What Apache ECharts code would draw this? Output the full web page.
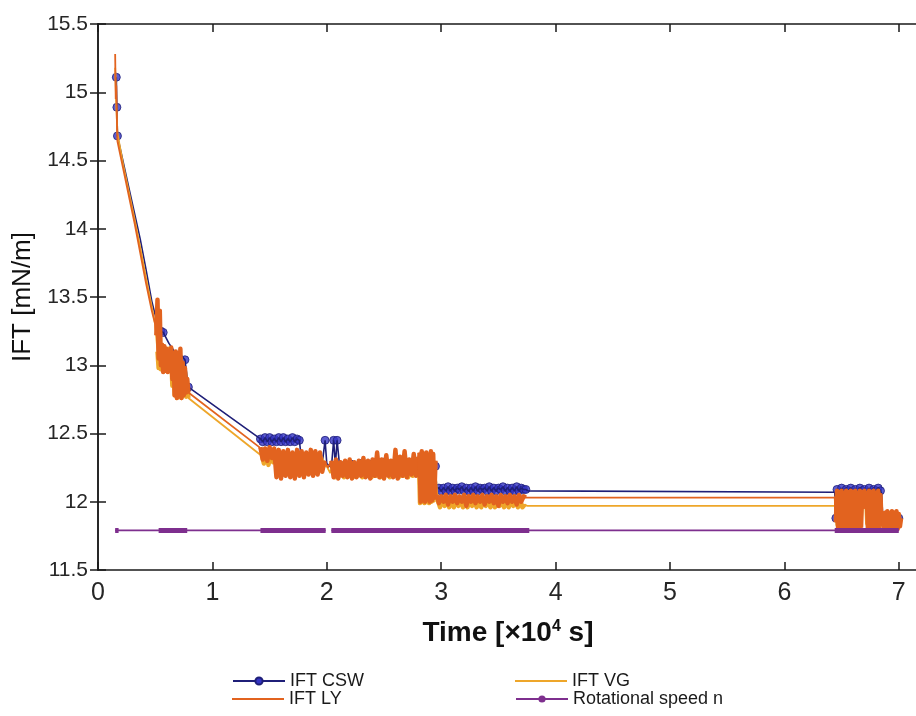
<!DOCTYPE html>
<html>
<head>
<meta charset="utf-8">
<script src="https://cdn.jsdelivr.net/npm/echarts@6/dist/echarts.min.js"></script>
<style>
  html, body { margin: 0; padding: 0; background: #ffffff; }
  #chart { width: 916px; height: 716px; }
</style>
</head>
<body>
<div id="chart"></div>
<script>
// Time axis is in units of 1e4 s, IFT in mN/m.
// Sparse parts are [t, value] pairs; densely sampled stretches are {t0, dt, v}.

// ---- IFT CSW ----
const cswHead = [[0.16,15.11],[0.165,14.89],[0.17,14.68],[0.22,14.49],[0.27,14.3],[0.32,14.11],[0.37,13.92],[0.42,13.7],[0.47,13.47],[0.52,13.3],[0.55,13.25],[0.57,13.24],[0.62,13.16],[0.67,13.1],[0.72,13.08],[0.76,13.04],[0.79,12.84]];
const cswRunA = {t0:1.42, dt:0.02, v:[12.46,12.44,12.47,12.44,12.47,12.44,12.46,12.44,12.47,12.44,12.47,12.44,12.46,12.44,12.47,12.44,12.46,12.45]};
const cswMid = [[1.78,12.30],[1.84,12.28],[1.9,12.29],[1.96,12.28],[1.985,12.45],[2.0,12.28],[2.04,12.25],[2.06,12.45],[2.075,12.27],[2.09,12.45],[2.11,12.28]];
const cswRunB = {t0:2.14, dt:0.04, v:[12.29,12.27,12.30,12.28,12.29,12.27,12.30,12.28,12.29,12.28,12.30,12.27,12.29,12.28,12.31,12.28,12.30]};
const cswStep = [[2.82,12.32],[2.9,12.31],[2.95,12.26],[2.96,12.10]];
const cswRunC = {t0:2.98, dt:0.02, v:[12.10,12.08,12.10,12.08,12.11,12.08,12.10,12.08,12.10,12.09,12.11,12.08,12.10,12.08,12.10,12.08,12.11,12.08,12.10,12.09,12.10,12.08,12.11,12.08,12.10,12.08,12.10,12.09,12.11,12.08,12.10,12.08,12.10,12.08,12.11,12.08,12.10,12.09,12.09]};
const cswFlat = [[3.76,12.08],[6.44,12.07],[6.45,11.88]];
const cswRunD = {t0:6.46, dt:0.02, v:[12.09,12.07,12.10,12.07,12.09,12.08,12.10,12.07,12.09,12.07,12.10,12.08,12.09,12.07,12.10,12.07,12.09,12.08,12.10,12.08]};
const cswTail = [[6.85,12.06],[6.86,11.88],[6.9,11.9],[6.94,11.87],[6.97,11.89],[7.0,11.88]];
const cswMarks = [[0.16,15.11],[0.165,14.89],[0.17,14.68],[0.55,13.25],[0.57,13.24],[0.76,13.04],[0.79,12.84],[1.985,12.45],[2.06,12.45],[2.09,12.45],[2.3,12.28],[2.5,12.29],[2.7,12.28],[2.95,12.26],[6.45,11.88],[6.86,11.88],[7.0,11.88]];

// ---- IFT LY ----
const lyHead = [[0.15,15.28],[0.155,14.95],[0.16,15.05],[0.165,14.8],[0.17,14.64],[0.22,14.44],[0.27,14.24],[0.32,14.04],[0.37,13.82],[0.42,13.6],[0.47,13.4],[0.5,13.3]];
const lyRunA = {t0:0.51, dt:0.01, v:[13.22,13.48,13.05,13.40,13.00,13.15,12.95,13.14,12.96,13.12,12.95,13.10,12.97,13.13,12.90,13.08,12.78,13.10,12.76,13.05,12.78,13.12,12.76,13.02,12.78,12.98,12.80,12.90,12.80]};
const lyLine = [[0.80,12.80],[1.41,12.40]];
const lyRunB = {t0:1.42, dt:0.02, v:[12.40,12.31,12.39,12.30,12.40,12.32,12.39,12.18,12.38,12.17,12.37,12.19,12.38,12.18,12.36,12.17,12.38,12.19,12.37,12.18,12.36,12.20,12.38,12.19,12.37,12.20,12.36,12.22,12.30]};
const lyGap = [[2.01,12.25]];
const lyRunC = {t0:2.04, dt:0.02, v:[12.30,12.18,12.31,12.17,12.29,12.19,12.30,12.18,12.31,12.17,12.29,12.18,12.30,12.19,12.32,12.18,12.30,12.17,12.31,12.19,12.36,12.18,12.31,12.17,12.34,12.19,12.30,12.18,12.38,12.17,12.33,12.19,12.37,12.18,12.31,12.20,12.35,12.19,12.33]};
const lyRunD = {t0:2.81, dt:0.01, v:[12.36,12.00,12.37,12.01,12.35,12.00,12.36,12.02,12.34,12.00,12.37,12.01,12.35,12.03,12.30]};
const lyRunE = {t0:2.96, dt:0.02, v:[12.05,11.99,12.04,12.00,12.05,11.98,12.04,12.00,12.05,11.99,12.04,12.00,12.05,11.97,12.04,12.00,12.05,11.99,12.04,12.00,12.05,11.98,12.04,12.00,12.05,11.99,12.04,11.97,12.05,12.00,12.04,11.99,12.05,12.00,12.04,11.98,12.05,12.00,12.04,12.03]};
const lyFlat = [[3.76,12.03],[6.44,12.03]];
const lyRunF = {t0:6.45, dt:0.01, v:[11.85,12.08,11.80,12.07,11.81,12.08,11.80,12.06,11.80,12.08,11.81,12.07,11.80,12.08,11.80,12.07,11.81,12.08,11.80,12.06,11.80,12.08,11.81,12.07,11.96,12.08,11.97,12.06,11.80,12.08,11.81,12.07,11.80,12.08,11.80,12.06,11.81,12.08,11.80,12.05,11.82]};
const lyRunG = {t0:6.86, dt:0.01, v:[11.93,11.80,11.92,11.81,11.93,11.80,11.91,11.80,11.93,11.81,11.92,11.80,11.93,11.80,11.91,11.82,11.88]};

// ---- IFT VG ----
const vgHead = [[0.15,15.18],[0.16,14.9],[0.17,14.7],[0.22,14.47],[0.27,14.27],[0.32,14.07],[0.37,13.86],[0.42,13.64],[0.47,13.43],[0.5,13.3]];
const vgRunA = {t0:0.52, dt:0.01, v:[13.10,12.98,13.12,12.97,13.10,12.99,13.11,12.98,13.09,12.97,13.12,12.96,13.08,12.85,13.05,12.78,13.06,12.76,13.04,12.77,13.05,12.76,13.00,12.78,12.95,12.77,12.85,12.76]};
const vgLine = [[0.80,12.75],[1.41,12.35]];
const vgRunB = {t0:1.43, dt:0.02, v:[12.35,12.28,12.36,12.27,12.35,12.29,12.34,12.21,12.35,12.20,12.33,12.22,12.35,12.21,12.34,12.20,12.33,12.22,12.35,12.21,12.34,12.22,12.33,12.21,12.34,12.23,12.32,12.26]};
const vgGap = [[2.0,12.26],[2.03,12.21]];
const vgRunC = {t0:2.05, dt:0.02, v:[12.27,12.18,12.26,12.19,12.27,12.18,12.28,12.19,12.26,12.18,12.27,12.19,12.26,12.18,12.28,12.19,12.27,12.18,12.26,12.19,12.29,12.18,12.27,12.19,12.26,12.18,12.28,12.19,12.27,12.18,12.30,12.19,12.27,12.18,12.26,12.19,12.28,12.20]};
const vgRunD = {t0:2.805, dt:0.01, v:[12.32,11.99,12.31,12.00,12.33,11.99,12.32,12.01,12.31,11.99,12.32,12.00,12.30,12.01,12.27]};
const vgRunE = {t0:2.97, dt:0.02, v:[12.01,11.96,12.02,11.97,12.01,11.96,12.02,11.96,12.01,11.97,12.02,11.96,12.01,11.96,12.02,11.97,12.01,11.96,12.02,11.96,12.01,11.97,12.02,11.96,12.01,11.96,12.02,11.97,12.01,11.96,12.02,11.96,12.01,11.97,12.02,11.96,12.01,11.96,11.98]};
const vgFlat = [[3.75,11.97],[6.44,11.97]];
const vgRunF = {t0:6.455, dt:0.01, v:[12.04,11.83,12.05,11.84,12.03,11.83,12.04,11.84,12.05,11.83,12.04,11.85,12.03,11.83,12.05,11.84,12.04,11.83,12.03,11.84,12.05,11.83,12.04,11.97,12.03,11.98,12.04,11.84,12.05,11.83,12.03,11.84,12.04,11.83,12.05,11.84,12.03,11.83,12.02,11.85]};
const vgRunG = {t0:6.865, dt:0.01, v:[11.91,11.81,11.90,11.82,11.91,11.81,11.92,11.81,11.90,11.82,11.91,11.81,11.89,11.84]};

// ---- Rotational speed n (drawn on the IFT scale) ----
const rotLevel = 11.79;
const rotRuns = [[0.15,1.99],[2.04,7.0]];
const rotDense = [[0.15,0.18],[0.53,0.78],[1.42,1.99],[2.04,3.77],[6.44,7.0]];

// ---- axes ----
const xMin = 0, xMax = 7.168, xStep = 1;
const yMin = 11.5, yMax = 15.5, yStep = 0.5;

function run(r) {
  return r.v.map((v, i) => [Math.round((r.t0 + i * r.dt) * 10000) / 10000, v]);
}
const lyRuns = [lyRunA, lyRunB, lyRunC, lyRunD, lyRunE, lyRunF, lyRunG];
const vgRuns = [vgRunA, vgRunB, vgRunC, vgRunD, vgRunE, vgRunF, vgRunG];
const cswData = [].concat(cswHead, run(cswRunA), cswMid, run(cswRunB), cswStep, run(cswRunC), cswFlat, run(cswRunD), cswTail);
const cswMarkData = [].concat(cswMarks, run(cswRunA), run(cswRunC), run(cswRunD));
const lyData = [].concat(lyHead, run(lyRunA), lyLine, run(lyRunB), lyGap, run(lyRunC), run(lyRunD), run(lyRunE), lyFlat, run(lyRunF), run(lyRunG));
const vgData = [].concat(vgHead, run(vgRunA), vgLine, run(vgRunB), vgGap, run(vgRunC), run(vgRunD), run(vgRunE), vgFlat, run(vgRunF), run(vgRunG));

const FONT = "'Liberation Sans', Arial, sans-serif";
const C_CSW = '#1f1f78', C_CSW_MK = '#3434c4', C_LY = '#e2631f', C_VG = '#eea62a', C_ROT = '#7e2f8e';

const series = [
  { name: 'IFT CSW', type: 'line', data: cswData, symbol: 'circle', symbolSize: 6, showSymbol: false,
    lineStyle: { color: C_CSW, width: 1.6 }, itemStyle: { color: C_CSW_MK, borderColor: C_CSW, borderWidth: 1 } },
  { name: 'IFT VG', type: 'line', data: vgData, symbol: 'none',
    lineStyle: { color: C_VG, width: 1.8 }, itemStyle: { color: C_VG } }
];
// dense sampling stretches drawn with a heavier stroke so they read as solid bands
vgRuns.forEach(r => series.push({ name: 'IFT VG', type: 'line', data: run(r), symbol: 'none',
  lineStyle: { color: C_VG, width: 4.5, join: 'round' }, itemStyle: { color: C_VG } }));
series.push({ name: 'IFT LY', type: 'line', data: lyData, symbol: 'none',
  lineStyle: { color: C_LY, width: 1.8 }, itemStyle: { color: C_LY } });
lyRuns.forEach(r => series.push({ name: 'IFT LY', type: 'line', data: run(r), symbol: 'none',
  lineStyle: { color: C_LY, width: 4.5, join: 'round' }, itemStyle: { color: C_LY } }));
series.push({ name: 'IFT CSW', type: 'scatter', data: cswMarkData, symbol: 'circle', symbolSize: 8,
  itemStyle: { color: C_CSW_MK, borderColor: C_CSW, borderWidth: 1 } });
rotRuns.forEach(r => series.push({
  name: 'Rotational speed n', type: 'line', data: [[r[0], rotLevel], [r[1], rotLevel]],
  symbol: 'circle', symbolSize: 3, showSymbol: false,
  lineStyle: { color: C_ROT, width: 1.6 }, itemStyle: { color: C_ROT }
}));
rotDense.forEach(r => series.push({
  name: 'Rotational speed n', type: 'line', data: [[r[0], rotLevel], [r[1], rotLevel]],
  symbol: 'none', lineStyle: { color: C_ROT, width: 5 }, itemStyle: { color: C_ROT }
}));

const axisLine = { show: true, lineStyle: { color: '#1a1a1a', width: 1.5 } };
const tick = { show: true, inside: true, length: 8, lineStyle: { color: '#1a1a1a', width: 1.5 } };
const legendText = { fontFamily: FONT, fontSize: 18, color: '#1a1a1a' };
function legendAt(name, left, top, asPlainLine) {
  const item = asPlainLine ? { name: name, icon: 'rect' } : { name: name };
  return { data: [item], orient: 'horizontal', left: left, top: top, itemWidth: 52,
    itemHeight: asPlainLine ? 2 : 9, itemGap: 0, padding: 0, textStyle: legendText };
}

const chart = echarts.init(document.getElementById('chart'), null, { renderer: 'canvas' });
chart.setOption({
  animation: false,
  backgroundColor: '#ffffff',
  grid: { left: 98, top: 24, width: 820, height: 546, containLabel: false, outerBoundsMode: 'none' },
  legend: [
    legendAt('IFT CSW', 232, 672, false),
    legendAt('IFT LY', 232, 690, true),
    legendAt('IFT VG', 515, 672, true),
    legendAt('Rotational speed n', 515, 690, false)
  ],
  xAxis: [
    { type: 'value', position: 'bottom', min: xMin, max: xMax, interval: xStep,
      axisLine: axisLine, axisTick: tick, splitLine: { show: false },
      axisLabel: { fontFamily: FONT, fontSize: 25, color: '#262626', margin: 11, showMaxLabel: false,
        formatter: v => (Math.abs(v - Math.round(v)) < 1e-9 ? String(Math.round(v)) : '') },
      name: 'Time [×10{sup|4} s]', nameLocation: 'middle', nameGap: 49,
      nameTextStyle: { fontFamily: FONT, fontWeight: 'bold', fontSize: 28, color: '#111',
        rich: { sup: { fontFamily: FONT, fontWeight: 'bold', fontSize: 16, color: '#111', padding: [0, 0, 12, 0] } } } },
    { type: 'value', position: 'top', min: xMin, max: xMax, interval: xStep,
      axisLine: axisLine, axisTick: tick, axisLabel: { show: false }, splitLine: { show: false } }
  ],
  yAxis: [
    { type: 'value', position: 'left', min: yMin, max: yMax, interval: yStep,
      axisLine: axisLine, axisTick: tick, splitLine: { show: false },
      axisLabel: { fontFamily: FONT, fontSize: 21, color: '#262626', margin: 10 },
      name: 'IFT [mN/m]', nameLocation: 'middle', nameGap: 51,
      nameTextStyle: { fontFamily: FONT, fontSize: 26, color: '#111' } },
    { type: 'value', position: 'right', min: yMin, max: yMax, interval: yStep,
      axisLine: axisLine, axisTick: tick, axisLabel: { show: false }, splitLine: { show: false } }
  ],
  series: series
});
</script>
</body>
</html>
